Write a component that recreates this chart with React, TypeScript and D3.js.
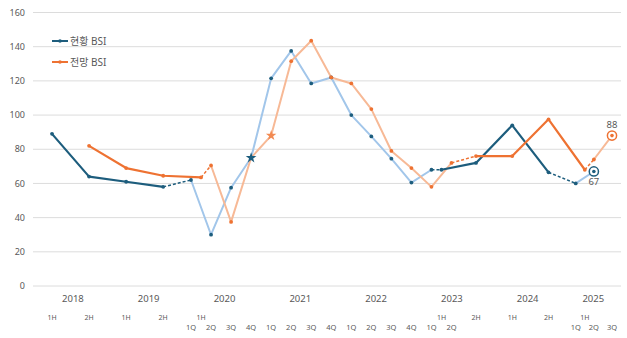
import React from "react";
import * as d3 from "d3";

// ---- data ----
const yTicks = [0, 20, 40, 60, 80, 100, 120, 140, 160];
const years = [2018, 2019, 2020, 2021, 2022, 2023, 2024, 2025];
const halfTicks = ["2018-1H", "2018-2H", "2019-1H", "2019-2H", "2020-1H", "2023-1H", "2023-2H", "2024-1H", "2024-2H", "2025-1H"];
const quarterTicks = [
  "2020-1Q", "2020-2Q", "2020-3Q", "2020-4Q",
  "2021-1Q", "2021-2Q", "2021-3Q", "2021-4Q",
  "2022-1Q", "2022-2Q", "2022-3Q", "2022-4Q",
  "2023-1Q", "2023-2Q",
  "2025-1Q", "2025-2Q", "2025-3Q",
];

// 현황 BSI
const curHalfAPeriods = ["2018-1H", "2018-2H", "2019-1H", "2019-2H"];
const curHalfAValues = [89, 64, 61, 58];
const curQtrAPeriods = ["2020-1Q", "2020-2Q", "2020-3Q", "2020-4Q", "2021-1Q", "2021-2Q", "2021-3Q", "2021-4Q", "2022-1Q", "2022-2Q", "2022-3Q", "2022-4Q", "2023-1Q"];
const curQtrAValues = [62, 30, 57.5, 75, 121.5, 137.5, 118.5, 122, 100, 87.5, 74.5, 60.5, 68];
const curHalfBPeriods = ["2023-1H", "2023-2H", "2024-1H", "2024-2H"];
const curHalfBValues = [68, 72, 94, 66.5];
const curQtrBPeriods = ["2025-1Q", "2025-2Q"];
const curQtrBValues = [60, 67];

// 전망 BSI
const fcHalfAPeriods = ["2018-2H", "2019-1H", "2019-2H", "2020-1H"];
const fcHalfAValues = [82, 69, 64.5, 63.5];
const fcQtrAPeriods = ["2020-2Q", "2020-3Q", "2020-4Q", "2021-1Q", "2021-2Q", "2021-3Q", "2021-4Q", "2022-1Q", "2022-2Q", "2022-3Q", "2022-4Q", "2023-1Q", "2023-2Q"];
const fcQtrAValues = [70.5, 37.5, 75, 88, 131.5, 143.5, 122, 118.5, 103.5, 79, 69, 58, 72];
const fcHalfBPeriods = ["2023-2H", "2024-1H", "2024-2H", "2025-1H"];
const fcHalfBValues = [76, 76, 97.5, 68];
const fcQtrBPeriods = ["2025-2Q", "2025-3Q"];
const fcQtrBValues = [74, 88];

const starCur = "2020-4Q";
const starFc = "2021-1Q";
const labelCur = { p: "2025-2Q", v: 67 };
const labelFc = { p: "2025-3Q", v: 88 };

// ---- style ----
const DARK_BLUE = "#1d5d7d";
const LIGHT_BLUE = "#a2c6ea";
const ORANGE = "#ee7232";
const LIGHT_ORANGE = "#f7b996";
const GRID = "#dcdcdc";
const TEXT = "#595959";
const FONT = "'Noto Sans', 'Noto Sans CJK KR', sans-serif";

type Pt = { p: string; v: number };
const zip = (ps: string[], vs: number[]): Pt[] => ps.map((p, i) => ({ p, v: vs[i] }));

const periodIndex = (p: string) => {
  const [ys, s] = p.split("-");
  const base = (+ys - 2018) * 4;
  if (s === "1H") return base + 0.5;
  if (s === "2H") return base + 2.5;
  return base + (+s[0]) - 1;
};

export default function App() {
  const W = 627, H = 338;
  const left = 33, right = 621;
  const y = d3.scaleLinear().domain([0, 160]).range([286, 12.5]);
  const x = d3.scaleLinear().domain([0.5, 8, 21, 22.5, 30]).range([52, 191, 451.5, 476, 612]);
  const yearBand = d3.scaleBand<number>().domain(years).range([35, 35 + years.length * 75.8]);

  const line = d3.line<Pt>().x((d) => x(periodIndex(d.p))).y((d) => y(d.v));

  const curHalfA = zip(curHalfAPeriods, curHalfAValues);
  const curQtrA = zip(curQtrAPeriods, curQtrAValues);
  const curHalfB = zip(curHalfBPeriods, curHalfBValues);
  const curQtrB = zip(curQtrBPeriods, curQtrBValues);
  const fcHalfA = zip(fcHalfAPeriods, fcHalfAValues);
  const fcQtrA = zip(fcQtrAPeriods, fcQtrAValues);
  const fcHalfB = zip(fcHalfBPeriods, fcHalfBValues);
  const fcQtrB = zip(fcQtrBPeriods, fcQtrBValues);

  const last = (a: Pt[]) => a[a.length - 1];

  const lightLines = [
    { d: curQtrA, c: LIGHT_BLUE },
    { d: curQtrB, c: LIGHT_BLUE },
    { d: fcQtrA, c: LIGHT_ORANGE },
    { d: fcQtrB, c: LIGHT_ORANGE },
  ];
  const dashed = [
    { d: [last(curHalfA), curQtrA[0]], c: DARK_BLUE },
    { d: [last(curQtrA), curHalfB[0]], c: DARK_BLUE },
    { d: [last(curHalfB), curQtrB[0]], c: DARK_BLUE },
    { d: [last(fcHalfA), fcQtrA[0]], c: ORANGE },
    { d: [last(fcQtrA), fcHalfB[0]], c: ORANGE },
    { d: [last(fcHalfB), fcQtrB[0]], c: ORANGE },
  ];
  const solid = [
    { d: curHalfA, c: DARK_BLUE },
    { d: curHalfB, c: DARK_BLUE },
    { d: fcHalfA, c: ORANGE },
    { d: fcHalfB, c: ORANGE },
  ];
  const dotsCur = [...curHalfA, ...curQtrA, ...curHalfB, ...curQtrB].filter((d) => d.p !== starCur && d.p !== labelCur.p);
  const dotsFc = [...fcHalfA, ...fcQtrA, ...fcHalfB, ...fcQtrB].filter((d) => d.p !== starFc && d.p !== labelFc.p);

  const star = d3.symbol().type(d3.symbolStar);
  const starCurPt = [...curQtrA].find((d) => d.p === starCur)!;
  const starFcPt = [...fcQtrA].find((d) => d.p === starFc)!;

  return (
    <svg width={W} height={H} style={{ position: "absolute", left: 0, top: 0, background: "#fff" }} fontFamily={FONT}>
      {yTicks.map((t) => (
        <g key={t}>
          <line x1={left} x2={right} y1={y(t)} y2={y(t)} stroke={GRID} strokeWidth={1} />
          <text x={25} y={y(t)} dy="0.35em" textAnchor="end" fontSize={9} fill={TEXT}>{t}</text>
        </g>
      ))}

      {years.map((yr) => {
        const x0 = yearBand(yr)!;
        const x1 = Math.min(x0 + yearBand.bandwidth(), right);
        return (
          <text key={yr} x={(x0 + x1) / 2} y={302} textAnchor="middle" fontSize={9.5} fill={TEXT}>{yr}</text>
        );
      })}
      {halfTicks.map((p) => (
        <text key={p} x={x(periodIndex(p))} y={319.5} textAnchor="middle" fontSize={7} fill={TEXT}>{p.split("-")[1]}</text>
      ))}
      {quarterTicks.map((p) => (
        <text key={p} x={x(periodIndex(p))} y={330} textAnchor="middle" fontSize={7.5} fill={TEXT}>{p.split("-")[1]}</text>
      ))}

      {lightLines.map((l, i) => (
        <path key={"l" + i} d={line(l.d)!} fill="none" stroke={l.c} strokeWidth={2} strokeLinejoin="round" />
      ))}
      {dashed.map((l, i) => (
        <path key={"d" + i} d={line(l.d)!} fill="none" stroke={l.c} strokeWidth={1.5} strokeDasharray="3,2" />
      ))}
      {solid.map((l, i) => (
        <path key={"s" + i} d={line(l.d)!} fill="none" stroke={l.c} strokeWidth={2.2} strokeLinejoin="round" />
      ))}

      {dotsCur.map((d, i) => (
        <circle key={"dc" + i} cx={x(periodIndex(d.p))} cy={y(d.v)} r={1.9} fill={DARK_BLUE} />
      ))}
      {dotsFc.map((d, i) => (
        <circle key={"df" + i} cx={x(periodIndex(d.p))} cy={y(d.v)} r={1.9} fill={ORANGE} />
      ))}

      <path d={star.size(34)()!} transform={`translate(${x(periodIndex(starFcPt.p))},${y(starFcPt.v)})`} fill="#f28a52" />
      <path d={star.size(36)()!} transform={`translate(${x(periodIndex(starCurPt.p))},${y(starCurPt.v)})`} fill={DARK_BLUE} />

      {[{ pt: labelCur, c: DARK_BLUE, dy: 14 }, { pt: labelFc, c: ORANGE, dy: -7.5 }].map((m, i) => {
        const cx = x(periodIndex(m.pt.p));
        const cy = y(m.pt.v);
        return (
          <g key={"m" + i}>
            <circle cx={cx} cy={cy} r={4.6} fill="#fff" stroke={m.c} strokeWidth={1.5} />
            <circle cx={cx} cy={cy} r={1.8} fill={m.c} />
            <text x={cx} y={cy + m.dy} textAnchor="middle" fontSize={9.5} fill={TEXT}>{m.pt.v}</text>
          </g>
        );
      })}

      {[{ label: "현황 BSI", c: DARK_BLUE, cy: 41 }, { label: "전망 BSI", c: ORANGE, cy: 62 }].map((l) => (
        <g key={l.label}>
          <line x1={52} x2={68} y1={l.cy} y2={l.cy} stroke={l.c} strokeWidth={2} />
          <circle cx={60} cy={l.cy} r={1.8} fill={l.c} />
          <text x={70} y={l.cy} dy="0.35em" fontSize={10} fill={TEXT}>{l.label}</text>
        </g>
      ))}
    </svg>
  );
}
